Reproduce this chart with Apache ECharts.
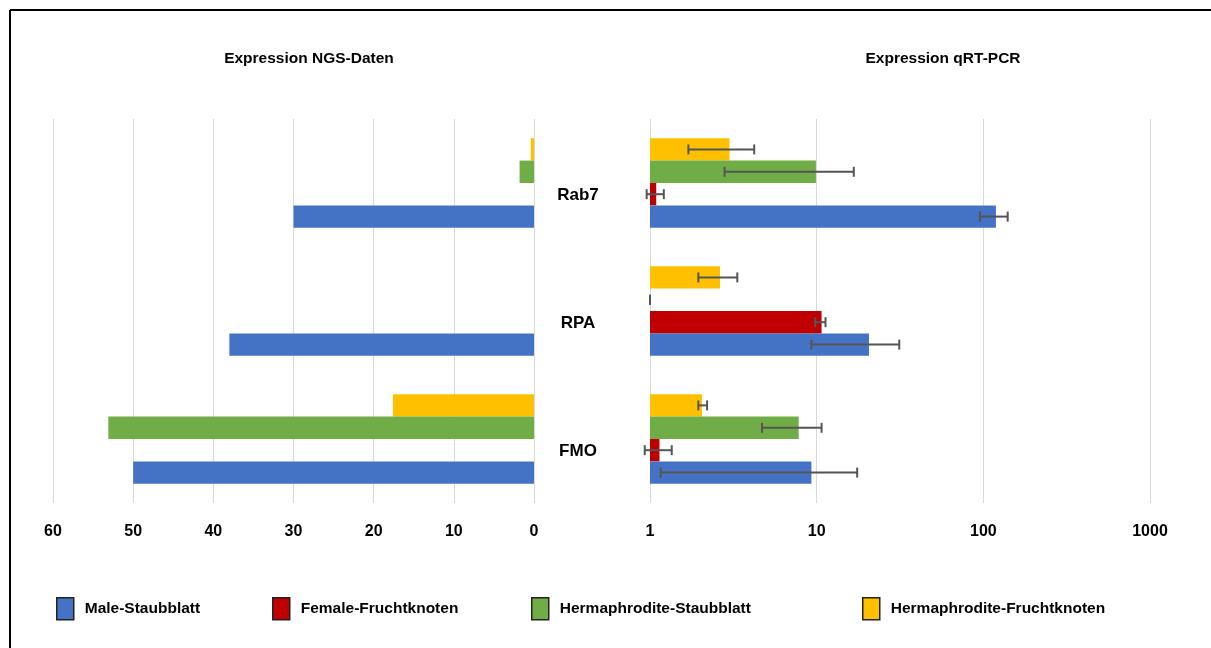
<!DOCTYPE html>
<html>
<head>
<meta charset="utf-8">
<script src="https://cdn.jsdelivr.net/npm/echarts@6/dist/echarts.min.js"></script>
<style>
  html, body { margin: 0; padding: 0; background: #fff; }
  #chart { width: 1211px; height: 648px; }
</style>
</head>
<body>
<div id="chart"></div>
<script>
// Genes, listed bottom to top
const genes = ['FMO', 'RPA', 'Rab7'];
const groupNames = ['Male-Staubblatt', 'Female-Fruchtknoten', 'Hermaphrodite-Staubblatt', 'Hermaphrodite-Fruchtknoten'];
const groupColors = ['#4472C4', '#C00000', '#70AD47', '#FFC000'];

// NGS expression (left panel)
const ngsMale = [50, 38, 30];
const ngsFemale = [0, 0, 0];
const ngsHermStaub = [53.1, 0, 1.8];
const ngsHermFrucht = [17.6, 0, 0.4];

// qRT-PCR relative expression (right panel, log scale)
const pcrMale = [9.3, 20.6, 119];
const pcrFemale = [1.14, 10.7, 1.09];
const pcrHermStaub = [7.8, 1.0, 9.9];
const pcrHermFrucht = [2.05, 2.63, 3.0];

// qRT-PCR error ranges [low, high]
const pcrMaleErr = [[1.16, 17.5], [9.3, 31.3], [95.5, 140]];
const pcrFemaleErr = [[0.93, 1.35], [9.8, 11.3], [0.955, 1.21]];
const pcrHermStaubErr = [[4.7, 10.7], [1.0, 1.0], [2.8, 16.7]];
const pcrHermFruchtErr = [[1.95, 2.2], [1.95, 3.34], [1.7, 4.22]];

// axis ranges
const ngsTicks = [0, 10, 20, 30, 40, 50, 60];
const pcrTicks = [1, 10, 100, 1000];

// legend item positions (icon left edge)
const legendLefts = [56, 272, 531, 862];

const FONT = "'Liberation Sans', Arial, sans-serif";
const CAT_GAP = 0.3;

// stacking order inside a category band (top to bottom)
const order = [3, 2, 1, 0];
const ngsValues = [ngsMale, ngsFemale, ngsHermStaub, ngsHermFrucht];
const pcrValues = [pcrMale, pcrFemale, pcrHermStaub, pcrHermFrucht];
const pcrErrors = [pcrMaleErr, pcrFemaleErr, pcrHermStaubErr, pcrHermFruchtErr];

function errorRenderer(slot) {
  return function (params, api) {
    const cat = api.value(0);
    const lo = api.coord([api.value(1), cat]);
    const hi = api.coord([api.value(2), cat]);
    const band = Math.abs(api.coord([1, 1])[1] - api.coord([1, 0])[1]);
    const total = band * (1 - CAT_GAP);
    const barW = total / 4;
    const y = lo[1] - total / 2 + (slot + 0.5) * barW;
    const cap = 5;
    const style = { stroke: '#555', lineWidth: 2 };
    return {
      type: 'group',
      children: [
        { type: 'line', shape: { x1: lo[0], y1: y, x2: hi[0], y2: y }, style: style },
        { type: 'line', shape: { x1: lo[0], y1: y - cap, x2: lo[0], y2: y + cap }, style: style },
        { type: 'line', shape: { x1: hi[0], y1: y - cap, x2: hi[0], y2: y + cap }, style: style }
      ]
    };
  };
}

const series = [];
order.forEach(function (g) {
  series.push({
    name: groupNames[g], type: 'bar', xAxisIndex: 0, yAxisIndex: 0,
    data: ngsValues[g], barGap: 0, barCategoryGap: '30%',
    itemStyle: { color: groupColors[g] }
  });
});
order.forEach(function (g) {
  series.push({
    name: groupNames[g], type: 'bar', xAxisIndex: 1, yAxisIndex: 1,
    data: pcrValues[g], barGap: 0, barCategoryGap: '30%',
    itemStyle: { color: groupColors[g] }
  });
});
order.forEach(function (g, slot) {
  series.push({
    name: 'err-' + groupNames[g], type: 'custom', xAxisIndex: 1, yAxisIndex: 1,
    z: 5, silent: true,
    renderItem: errorRenderer(slot),
    encode: { x: [1, 2], y: 0 },
    data: pcrErrors[g].map(function (e, i) { return [i, e[0], e[1]]; })
  });
});

const axisLabelStyle = { color: '#000', fontFamily: FONT, fontWeight: 'bold', fontSize: 16, margin: 21 };
const gridLine = { show: true, lineStyle: { color: '#d9d9d9', width: 1 } };

const legends = groupNames.map(function (name, i) {
  return {
    data: [name],
    left: legendLefts[i], top: 597, padding: 0,
    itemWidth: 17, itemHeight: 22, itemGap: 0,
    icon: 'rect',
    itemStyle: { borderColor: '#222', borderWidth: 1.5 },
    textStyle: { fontFamily: FONT, fontWeight: 'bold', fontSize: 15.5, color: '#000', padding: [0, 0, 0, 6] },
    selectedMode: false
  };
});

const chart = echarts.init(document.getElementById('chart'), null, { renderer: 'canvas' });
chart.setOption({
  backgroundColor: '#fff',
  animation: false,
  title: [
    { text: 'Expression NGS-Daten', left: 304, top: 46, textAlign: 'center',
      textStyle: { fontFamily: FONT, fontWeight: 'bold', fontSize: 15.5, color: '#000' } },
    { text: 'Expression qRT-PCR', left: 938, top: 46, textAlign: 'center',
      textStyle: { fontFamily: FONT, fontWeight: 'bold', fontSize: 15.5, color: '#000' } }
  ],
  legend: legends,
  grid: [
    { left: 53, width: 481, top: 119, height: 384 },
    { left: 650, width: 500, top: 119, height: 384 }
  ],
  xAxis: [
    { gridIndex: 0, type: 'value', inverse: true, min: ngsTicks[0], max: ngsTicks[ngsTicks.length - 1], interval: 10,
      axisLine: { show: false }, axisTick: { show: false }, splitLine: gridLine,
      axisLabel: axisLabelStyle },
    { gridIndex: 1, type: 'log', logBase: 10, min: pcrTicks[0], max: pcrTicks[pcrTicks.length - 1],
      axisLine: { show: false }, axisTick: { show: false }, splitLine: gridLine,
      axisLabel: Object.assign({}, axisLabelStyle, { formatter: function (v) { return String(Math.round(v)); } }) }
  ],
  yAxis: [
    { gridIndex: 0, type: 'category', data: genes,
      axisLine: { show: false }, axisTick: { show: false }, axisLabel: { show: false } },
    { gridIndex: 1, type: 'category', data: genes,
      axisLine: { show: false }, axisTick: { show: false },
      axisLabel: { color: '#000', fontFamily: FONT, fontWeight: 'bold', fontSize: 17,
        align: 'center', verticalAlign: 'top', margin: 72, padding: [4, 0, 0, 0] } }
  ],
  graphic: [
    { type: 'line', shape: { x1: 10, y1: 10, x2: 1211, y2: 10 }, style: { stroke: '#000', lineWidth: 2 } },
    { type: 'line', shape: { x1: 10, y1: 10, x2: 10, y2: 648 }, style: { stroke: '#000', lineWidth: 2 } }
  ],
  series: series
});
</script>
</body>
</html>
